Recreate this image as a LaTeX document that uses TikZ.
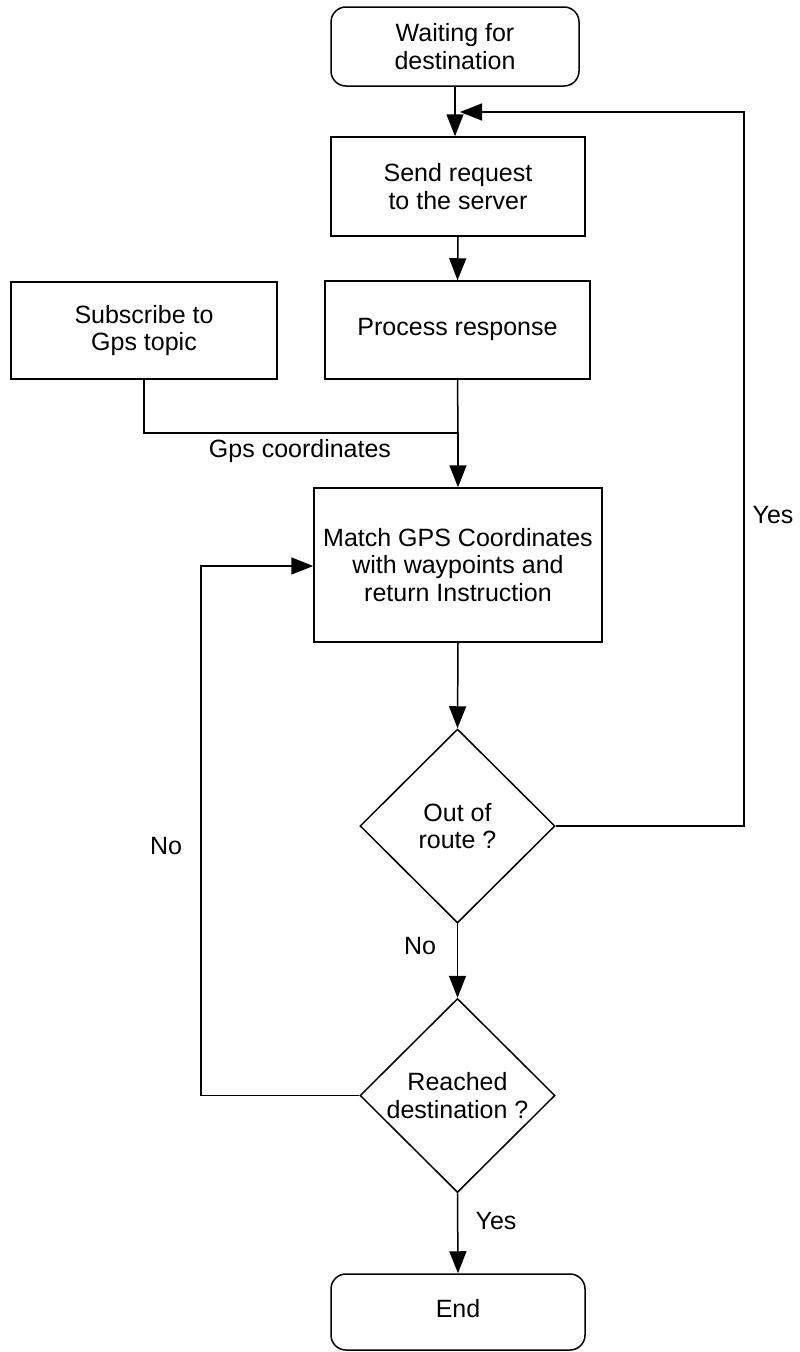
\documentclass[tikz,border=0pt]{standalone}
\usepackage{fontspec}
\setmainfont{Liberation Sans}
\usetikzlibrary{shapes.geometric,arrows.meta}
\begin{document}
\begin{tikzpicture}[x=1pt,y=-1pt,
  line width=1.5pt,
  every node/.style={font=\fontsize{25}{27.5}\selectfont, align=center},
  procbox/.style={draw, rectangle, inner sep=0pt},
  termbox/.style={draw, rectangle, rounded corners=15pt, inner sep=0pt},
  decision/.style={draw, diamond, aspect=1, inner sep=0pt, minimum width=195pt, minimum height=194pt},
  flow/.style={-{Triangle[length=22pt,width=17pt]}},
  lbl/.style={inner sep=0pt}
]
\useasboundingbox (0,0) rectangle (800,1352);

% boxes
\node[termbox, minimum width=248pt, minimum height=79pt] (wait) at (455,46.5) {Waiting for\\destination};
\node[procbox, minimum width=254pt, minimum height=99pt] (send) at (458,186.5) {Send request\\to the server};
\node[procbox, minimum width=265pt, minimum height=98pt] (proc) at (457.5,330) {\strut Process response};
\node[procbox, minimum width=266pt, minimum height=97pt] (sub) at (144,330.5) {Subscribe to\\Gps topic};
\node[procbox, minimum width=288pt, minimum height=154pt] (match) at (458,565) {Match GPS Coordinates\\with waypoints and\\return Instruction};
\node[decision] (route) at (457.5,826) {Out of\\route ?};
\node[decision] (reach) at (457.5,1095.5) {Reached\\destination ?};
\node[termbox, minimum width=254pt, minimum height=76pt] (end) at (458,1312) {\strut End};

% helper points for the bends
\coordinate (j) at (458,433);
\coordinate (loopR) at (744,112);
\coordinate (mergeR) at (460,112);
\coordinate (loopL) at (201,566);

% connectors
\draw[flow] (wait.south) -- (wait.south |- send.north);
\draw[flow] (send.south) -- (proc.north);
\draw (sub.south) |- (j);
\draw (proc.south) -- (j);
\draw[flow] (j) -- (match.north);
\draw[flow] (match.south) -- (route.north);
\draw[flow] (route.south) -- (reach.north);
\draw[flow] (reach.south) -- (end.north);
\draw[flow] (route.east) -| (loopR) -- (mergeR);
\draw[flow] (reach.west) -| (loopL) -- (match.west |- loopL);

% labels
\node[lbl] (gpslbl) at (300,451) {Gps coordinates};
\node[lbl] (yes1) at (773,515) {Yes};
\node[lbl] (no1) at (420,946) {No};
\node[lbl] (no2) at (166,846) {No};
\node[lbl] (yes2) at (496,1221) {Yes};
\end{tikzpicture}
\end{document}
